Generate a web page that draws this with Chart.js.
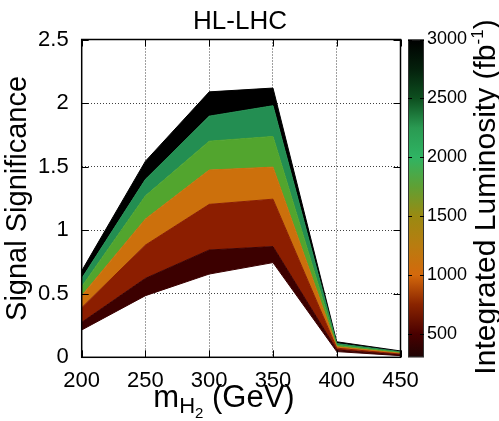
<!DOCTYPE html>
<html>
<head>
<meta charset="utf-8">
<script src="https://cdn.jsdelivr.net/npm/chart.js@4.4.1/dist/chart.umd.min.js"></script>
<style>
  html, body { margin: 0; padding: 0; background: #fff; }
  #wrap { width: 499px; height: 421px; }
</style>
</head>
<body>
<div id="wrap"><canvas id="myChart" width="499" height="421"></canvas></div>
<script>
// heavy higgs mass points (GeV)
var masses = [200, 250, 300, 350, 400, 450];

// signal significance, one list per integrated luminosity (fb^-1)
var sig300  = [0.215, 0.485, 0.655, 0.745, 0.045, 0.013];
var sig500  = [0.275, 0.621, 0.844, 0.871, 0.058, 0.018];
var sig1000 = [0.390, 0.883, 1.203, 1.244, 0.072, 0.025];
var sig1500 = [0.485, 1.088, 1.473, 1.496, 0.083, 0.031];
var sig2000 = [0.555, 1.270, 1.700, 1.737, 0.095, 0.037];
var sig2500 = [0.620, 1.400, 1.897, 1.979, 0.108, 0.043];
var sig3000 = [0.680, 1.543, 2.088, 2.118, 0.122, 0.050];

var lumiLevels = [300, 500, 1000, 1500, 2000, 2500, 3000];
var xTicks = [200, 250, 300, 350, 400, 450];
var yTicks = [0, 0.5, 1, 1.5, 2, 2.5];
var lumiTicks = [500, 1000, 1500, 2000, 2500, 3000];

var bandColors = ['#3c0000', '#8c1e00', '#cc700c', '#52a52e', '#238e52', '#000000'];

var series = [sig300, sig500, sig1000, sig1500, sig2000, sig2500, sig3000];
var FONT = '"Liberation Sans", Arial, sans-serif';

var datasets = [];
for (var i = 0; i < series.length; i++) {
  var pts = [];
  for (var j = 0; j < masses.length; j++) {
    pts.push({x: masses[j], y: series[i][j]});
  }
  var col = i === 0 ? bandColors[0] : bandColors[i - 1];
  datasets.push({
    label: lumiLevels[i] + ' fb-1',
    data: pts,
    fill: i === 0 ? false : '-1',
    backgroundColor: col,
    borderColor: col,
    borderWidth: 1,
    pointRadius: 0,
    tension: 0
  });
}

// colour map of the luminosity bar
var cbStops = [
  [300, '#1e0404'], [500, '#4a0000'], [750, '#8a2400'], [1000, '#d4690c'],
  [1250, '#b87c10'], [1500, '#9a8a12'], [1750, '#5fa034'], [2000, '#2fb463'],
  [2250, '#2a9a52'], [2500, '#0d4f1f'], [2750, '#04200c'], [3000, '#000000']
];

var extras = {
  id: 'extras',
  afterDraw: function(chart) {
    var ctx = chart.ctx, a = chart.chartArea;
    var xs = chart.scales.x, ys = chart.scales.y, cb = chart.scales.y2;
    ctx.save();

    // frame
    ctx.strokeStyle = '#000';
    ctx.lineWidth = 1.5;
    ctx.strokeRect(a.left, a.top, a.right - a.left, a.bottom - a.top);

    // inward tick marks (all four sides)
    ctx.lineWidth = 1;
    xTicks.forEach(function(v) {
      var px = Math.round(xs.getPixelForValue(v)) + 0.5;
      ctx.beginPath();
      ctx.moveTo(px, a.bottom); ctx.lineTo(px, a.bottom - 7);
      ctx.moveTo(px, a.top); ctx.lineTo(px, a.top + 7);
      ctx.stroke();
    });
    yTicks.forEach(function(v) {
      var py = Math.round(ys.getPixelForValue(v)) + 0.5;
      ctx.beginPath();
      ctx.moveTo(a.left, py); ctx.lineTo(a.left + 7, py);
      ctx.moveTo(a.right, py); ctx.lineTo(a.right - 7, py);
      ctx.stroke();
    });

    // colour bar
    var bx = 408, bw = 16;
    var top = cb.getPixelForValue(3000), bot = cb.getPixelForValue(300);
    var g = ctx.createLinearGradient(0, bot, 0, top);
    cbStops.forEach(function(s) {
      g.addColorStop((s[0] - 300) / 2700, s[1]);
    });
    ctx.fillStyle = g;
    ctx.fillRect(bx, top, bw, bot - top);
    ctx.strokeStyle = '#333';
    ctx.lineWidth = 1;
    ctx.strokeRect(bx + 0.5, top + 0.5, bw - 1, bot - top - 1);
    ctx.strokeStyle = '#000';
    lumiTicks.forEach(function(v) {
      var py = Math.round(cb.getPixelForValue(v)) + 0.5;
      ctx.beginPath();
      ctx.moveTo(bx, py); ctx.lineTo(bx + 4, py);
      ctx.moveTo(bx + bw, py); ctx.lineTo(bx + bw - 4, py);
      ctx.stroke();
    });

    ctx.fillStyle = '#000';
    ctx.textBaseline = 'alphabetic';

    // title
    ctx.font = '26px ' + FONT;
    ctx.textAlign = 'center';
    ctx.fillText('HL-LHC', 240, 29);

    // x axis title: m_{H_2} (GeV)
    ctx.textAlign = 'left';
    var big = '31px ' + FONT, mid = '22px ' + FONT, small = '15px ' + FONT;
    ctx.font = big; var wm = ctx.measureText('m').width;
    var wg = ctx.measureText(' (GeV)').width;
    ctx.font = mid; var wh = ctx.measureText('H').width;
    ctx.font = small; var w2 = ctx.measureText('2').width;
    var total = wm + wh + w2 + wg;
    var x0 = 224 - total / 2, base = 407;
    ctx.font = big; ctx.fillText('m', x0, base);
    ctx.font = mid; ctx.fillText('H', x0 + wm, base + 6);
    ctx.font = small; ctx.fillText('2', x0 + wm + wh, base + 11);
    ctx.font = big; ctx.fillText(' (GeV)', x0 + wm + wh + w2, base);

    // colour bar title, rotated
    ctx.save();
    ctx.translate(495, 197);
    ctx.rotate(-Math.PI / 2);
    ctx.font = '30px ' + FONT; var t1 = 'Integrated Luminosity (fb';
    var w1 = ctx.measureText(t1).width, wp = ctx.measureText(')').width;
    ctx.font = '17px ' + FONT; var ws = ctx.measureText('-1').width;
    var sx = -(w1 + ws + wp) / 2;
    ctx.font = '30px ' + FONT; ctx.fillText(t1, sx, 0);
    ctx.font = '17px ' + FONT; ctx.fillText('-1', sx + w1, -12);
    ctx.font = '30px ' + FONT; ctx.fillText(')', sx + w1 + ws, 0);
    ctx.restore();

    ctx.restore();
  }
};

var ctx = document.getElementById('myChart').getContext('2d');
var myChart = new Chart(ctx, {
  type: 'line',
  data: { datasets: datasets },
  options: {
    responsive: false,
    animation: false,
    layout: { padding: { top: 39.5, left: 0, right: 0, bottom: 0 } },
    plugins: { legend: { display: false }, tooltip: { enabled: false }, title: { display: false } },
    scales: {
      x: {
        type: 'linear', min: 200, max: 450,
        afterBuildTicks: function(s) { s.ticks = xTicks.map(function(v) { return {value: v}; }); },
        afterFit: function(s) { s.height = 421 - 357.3; },
        grid: { color: 'rgba(0,0,0,0.75)', lineWidth: 1, drawTicks: false },
        border: { display: false, dash: [1, 2] },
        ticks: { color: '#000', padding: 10, font: { family: FONT, size: 22 }, maxRotation: 0,
                 callback: function(v) { return String(v); } }
      },
      y: {
        type: 'linear', min: 0, max: 2.5,
        afterBuildTicks: function(s) { s.ticks = yTicks.map(function(v) { return {value: v}; }); },
        afterFit: function(s) { s.width = 81.7; },
        grid: { color: 'rgba(0,0,0,0.75)', lineWidth: 1, drawTicks: false },
        border: { display: false, dash: [1, 2] },
        ticks: { color: '#000', padding: 13, font: { family: FONT, size: 22 },
                 callback: function(v) { return String(v); } },
        title: { display: true, text: 'Signal Significance', color: '#000', font: { family: FONT, size: 29 }, padding: { top: 1, bottom: 0 } }
      },
      y2: {
        type: 'linear', position: 'right', min: 300, max: 3000,
        afterBuildTicks: function(s) { s.ticks = lumiTicks.map(function(v) { return {value: v}; }); },
        afterFit: function(s) { s.width = 499 - 400.5; },
        grid: { display: false, drawTicks: false },
        border: { display: false },
        ticks: { color: '#000', padding: 26.5, font: { family: FONT, size: 18 },
                 callback: function(v) { return String(v); } }
      }
    }
  },
  plugins: [extras]
});
</script>
</body>
</html>
